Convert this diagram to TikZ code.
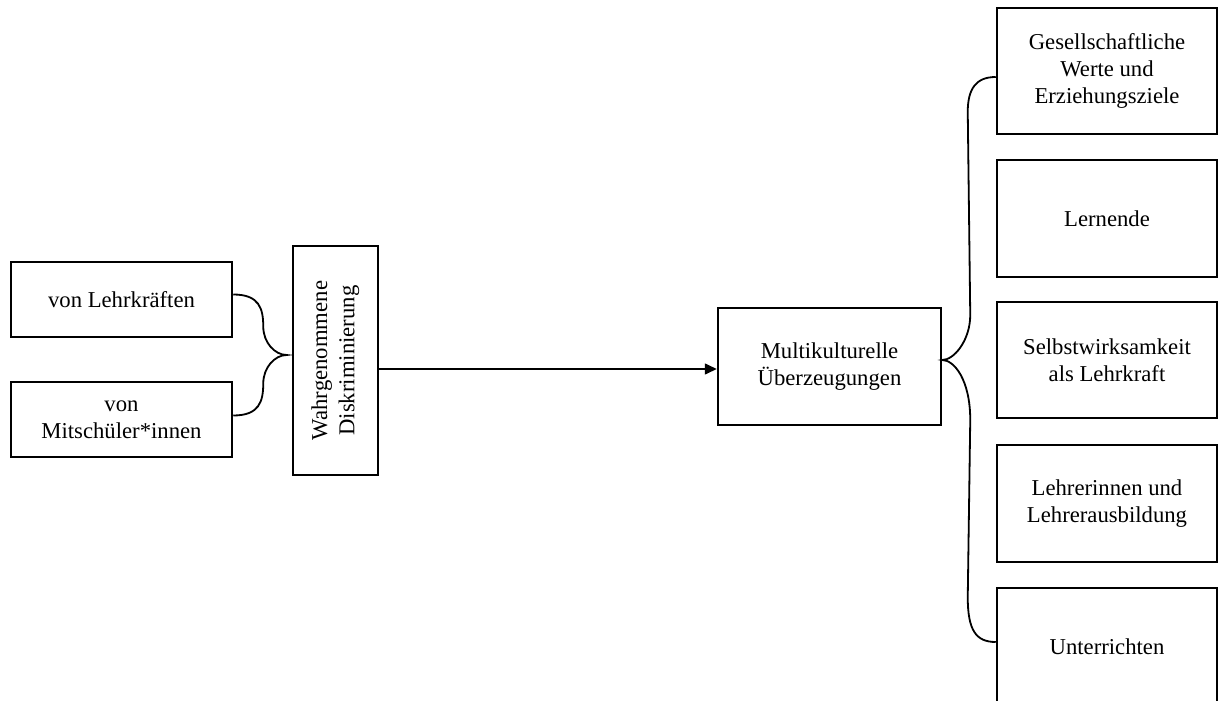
\documentclass[tikz,border=0pt]{standalone}
\usepackage{fontspec}
\setmainfont{Liberation Serif}
\usetikzlibrary{arrows.meta,calc}
\begin{document}
\begin{tikzpicture}[x=1pt,y=-1pt,
  box/.style={draw,line width=2.5pt,inner sep=0pt,align=center,
    font=\fontsize{22.7}{26.7}\selectfont},
  lbox/.style={box,minimum width=221pt,minimum height=75pt},
  rbox/.style={box,minimum width=220pt},
  brace/.style={line width=1.8pt},
  conn/.style={line width=1.6pt,-{Triangle[length=12pt,width=11pt]}}]
\useasboundingbox (0,0) rectangle (1219,701);
\fill[white] (0,0) rectangle (1219,701);
% left boxes
\node[lbox] (l1) at (121.5,299.5) {von Lehrkräften};
\node[lbox] (l2) at (121.5,419.5) {von\\Mitschüler*innen};
\node[box,minimum width=85pt,minimum height=229pt] (wd) at (335.5,360.5)
  {\rotatebox{90}{\begin{tabular}{@{}c@{}}Wahrgenommene\\[0.6pt]Diskriminierung\end{tabular}}};
% center box
\node[box,minimum width=223pt,minimum height=117pt] (mc) at (829.5,366.5)
  {Multikulturelle\\Überzeugungen};
% right boxes
\node[rbox,minimum height=126pt] (r1) at (1107,71) {\raisebox{-4pt}{\begin{tabular}{@{}c@{}}Gesellschaftliche\\Werte und\\Erziehungsziele\end{tabular}}};
\node[rbox,minimum height=117pt] (r2) at (1107,218.5) {Lernende};
\node[rbox,minimum height=116pt] (r3) at (1107,360) {Selbstwirksamkeit\\als Lehrkraft};
\node[rbox,minimum height=117pt] (r4) at (1107,503.5) {Lehrerinnen und\\Lehrerausbildung};
\node[rbox,minimum height=118pt] (r5) at (1107,647) {Unterrichten};
% left brace
\coordinate (lt) at ($(wd.west)+(-5,-5.5)$);
\coordinate (la) at ($(l1.east)+(0,-5)$);
\coordinate (lb) at ($(l2.east)+(0,-4)$);
\draw[brace] (la) .. controls ($(la)+(26,0)$) and ($(la)+(30,14)$) .. ($(la)+(30,32)$)
  .. controls ($(la)+(30,48)$) and ($(lt)+(-12,0)$) .. (lt)
  .. controls ($(lt)+(-12,0)$) and ($(lb)+(30,-48)$) .. ($(lb)+(30,-32)$)
  .. controls ($(lb)+(30,-14)$) and ($(lb)+(26,0)$) .. (lb);
% arrow
\draw[conn] (wd.east |- 0,369) -- (mc.west |- 0,369);
% right brace
\coordinate (rt) at ($(mc.east)+(0,-6.5)$);
\coordinate (ra) at ($(r1.west)+(0,6)$);
\coordinate (rb) at ($(r5.west)+(0,-5)$);
\draw[brace] (ra) .. controls ($(ra)+(-20,0)$) and ($(ra)+(-28,12)$) .. ($(ra)+(-28,35)$)
  -- ($(rt)+(28,-45)$)
  .. controls ($(rt)+(28,-20)$) and ($(rt)+(12,0)$) .. (rt)
  .. controls ($(rt)+(12,0)$) and ($(rt)+(28,20)$) .. ($(rt)+(28,60)$)
  -- ($(rb)+(-28,-45)$)
  .. controls ($(rb)+(-28,-12)$) and ($(rb)+(-20,0)$) .. (rb);
\end{tikzpicture}
\end{document}
